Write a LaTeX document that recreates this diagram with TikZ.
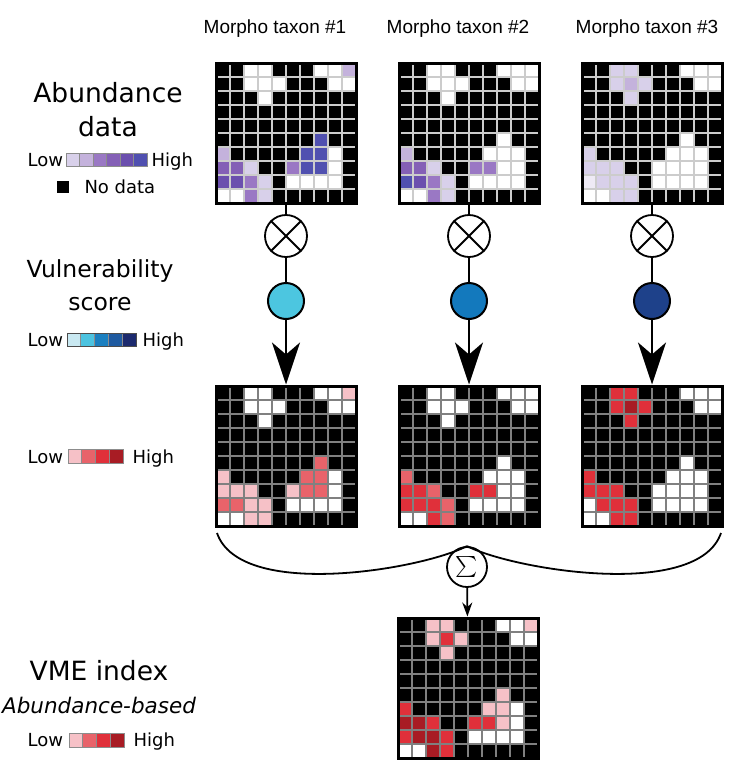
\documentclass[tikz,border=0pt]{standalone}
\usepackage{fontspec}
\setmainfont{DejaVu Sans}
\newfontfamily\arialf{Liberation Sans}
\usetikzlibrary{arrows.meta}
\definecolor{B}{HTML}{000000}
\definecolor{W}{HTML}{FFFFFF}
\definecolor{p0}{HTML}{EEEAF5}
\definecolor{p1}{HTML}{D8D0EA}
\definecolor{p2}{HTML}{C4B2DC}
\definecolor{p3}{HTML}{9A78C4}
\definecolor{p4}{HTML}{8460B6}
\definecolor{p5}{HTML}{6B4FAE}
\definecolor{p6}{HTML}{5050B0}
\definecolor{b1}{HTML}{C9E9F2}
\definecolor{b2}{HTML}{4CC3E0}
\definecolor{b3}{HTML}{1A7FC0}
\definecolor{b4}{HTML}{1F5AA0}
\definecolor{b5}{HTML}{1C2A6E}
\definecolor{c1}{HTML}{4CC6E0}
\definecolor{c2}{HTML}{1379BD}
\definecolor{c3}{HTML}{1E418A}
\definecolor{r1}{HTML}{F6C1C7}
\definecolor{r2}{HTML}{E8636A}
\definecolor{r3}{HTML}{E0303A}
\definecolor{r4}{HTML}{A81C24}
\newcommand{\drawcells}[4]{%
  \foreach \rowdata [count=\r from 0] in {#4} {
    \foreach \cc [count=\k from 0] in \rowdata {
      \fill[fill=\cc] ({#1+\k*14},{#2+\r*14}) rectangle ++(14,14);
    }
  }
  \foreach \i in {1,...,9} {
    \draw[#3] ({#1+\i*14},#2) -- ++(0,140);
    \draw[#3] (#1,{#2+\i*14}) -- ++(140,0);
  }
}
\newcommand{\swatches}[5]{% x0, y0, width, height, list
  \foreach \cc [count=\k from 0] in {#5} {
    \filldraw[fill=\cc, draw=black!45, line width=0.8] ({#1+\k*#3},#2) rectangle ++(#3,#4);
  }
}
\tikzset{
  gridframe/.style={draw=black, line width=3, minimum size=140, inner sep=0, fill=none},
  lightlines/.style={draw=black!20, line width=1.2},
  darklines/.style={draw=black!50, line width=1.2},
  timesc/.style={circle, draw=black, line width=1.8, minimum size=42, inner sep=0, fill=white},
  vcirc/.style={circle, draw=black, line width=2, minimum size=36, inner sep=0},
  sumc/.style={circle, draw=black, line width=1.8, minimum size=40, inner sep=0, fill=white},
  conn/.style={draw=black, line width=2.5},
  bigtip/.style={-{Stealth[length=42, width=28, inset=12]}},
  curve/.style={draw=black, line width=1.8},
  big/.style={font=\fontsize{26.5}{30}\selectfont},
  mid/.style={font=\fontsize{23.5}{28}\selectfont},
  small/.style={font=\fontsize{18}{22}\selectfont},
  coltitle/.style={font=\arialf\fontsize{19}{22}\selectfont, anchor=base},
}
\begin{document}
\begin{tikzpicture}[x=1pt, y=-1pt]
\useasboundingbox (0,0) rectangle (747,772);
% column titles
\node[coltitle] (h1) at (275,33) {Morpho taxon \#1};
\node[coltitle] (h2) at (458,33) {Morpho taxon \#2};
\node[coltitle] (h3) at (647,33) {Morpho taxon \#3};
% abundance grids
\drawcells{216}{63}{lightlines}{{B,B,W,W,B,B,B,W,W,p2},{B,B,W,W,W,B,B,B,W,W},{B,B,B,W,B,B,B,B,B,B},{B,B,B,B,B,B,B,B,B,B},{B,B,B,B,B,B,B,B,B,B},{B,B,B,B,B,B,B,p6,B,B},{p2,B,B,B,B,B,p6,p6,W,B},{p4,p4,p1,B,B,p3,p6,p6,W,B},{p5,p5,p3,p1,B,W,W,W,W,B},{W,W,p3,p1,B,B,B,B,B,B}}
\drawcells{399}{63}{lightlines}{{B,B,W,W,B,B,B,W,W,W},{B,B,W,W,W,B,B,B,W,W},{B,B,B,W,B,B,B,B,B,B},{B,B,B,B,B,B,B,B,B,B},{B,B,B,B,B,B,B,B,B,B},{B,B,B,B,B,B,B,W,B,B},{p2,B,B,B,B,B,W,W,W,B},{p4,p4,p1,B,B,p3,p3,W,W,B},{p6,p5,p3,p1,B,W,W,W,W,B},{W,W,p3,p1,B,B,B,B,B,B}}
\drawcells{582}{63}{lightlines}{{B,B,p1,p1,B,B,B,W,W,W},{B,B,p1,p2,p1,B,B,B,W,W},{B,B,B,p1,B,B,B,B,B,B},{B,B,B,B,B,B,B,B,B,B},{B,B,B,B,B,B,B,B,B,B},{B,B,B,B,B,B,B,W,B,B},{p1,B,B,B,B,B,W,W,W,B},{p1,p1,p1,B,B,W,W,W,W,B},{p0,p1,p1,p1,B,W,W,W,W,B},{W,W,p1,p1,B,B,B,B,B,B}}
\node[gridframe] (g1) at (286,133) {};
\node[gridframe] (g2) at (469,133) {};
\node[gridframe] (g3) at (652,133) {};
% index grids
\drawcells{216}{386}{darklines}{{B,B,W,W,B,B,B,W,W,r1},{B,B,W,W,W,B,B,B,W,W},{B,B,B,W,B,B,B,B,B,B},{B,B,B,B,B,B,B,B,B,B},{B,B,B,B,B,B,B,B,B,B},{B,B,B,B,B,B,B,r2,B,B},{r1,B,B,B,B,B,r2,r2,W,B},{r1,r1,r1,B,B,r1,r2,r2,W,B},{r2,r2,r1,r1,B,W,W,W,W,B},{W,W,r1,r1,B,B,B,B,B,B}}
\drawcells{399}{386}{darklines}{{B,B,W,W,B,B,B,W,W,W},{B,B,W,W,W,B,B,B,W,W},{B,B,B,W,B,B,B,B,B,B},{B,B,B,B,B,B,B,B,B,B},{B,B,B,B,B,B,B,B,B,B},{B,B,B,B,B,B,B,W,B,B},{r2,B,B,B,B,B,W,W,W,B},{r3,r3,r2,B,B,r3,r3,W,W,B},{r3,r3,r3,r2,B,W,W,W,W,B},{W,W,r3,r2,B,B,B,B,B,B}}
\drawcells{582}{386}{darklines}{{B,B,r3,r3,B,B,B,W,W,W},{B,B,r3,r4,r3,B,B,B,W,W},{B,B,B,r3,B,B,B,B,B,B},{B,B,B,B,B,B,B,B,B,B},{B,B,B,B,B,B,B,B,B,B},{B,B,B,B,B,B,B,W,B,B},{r3,B,B,B,B,B,W,W,W,B},{r3,r3,r3,B,B,W,W,W,W,B},{W,r3,r3,r3,B,W,W,W,W,B},{W,W,r3,r3,B,B,B,B,B,B}}
\node[gridframe] (r1g) at (286,456) {};
\node[gridframe] (r2g) at (469,456) {};
\node[gridframe] (r3g) at (652,456) {};
% VME grid
\drawcells{398}{618}{darklines}{{B,B,r1,r1,B,B,B,W,W,r1},{B,B,r1,r3,r1,B,B,B,W,W},{B,B,B,r1,B,B,B,B,B,B},{B,B,B,B,B,B,B,B,B,B},{B,B,B,B,B,B,B,B,B,B},{B,B,B,B,B,B,B,r1,B,B},{r3,B,B,B,B,B,r1,r1,W,B},{r4,r4,r3,B,B,r3,r3,r1,W,B},{r3,r4,r4,r3,B,W,W,W,W,B},{W,W,r4,r3,B,B,B,B,B,B}}
\node[gridframe] (vg) at (468,688) {};
% operator circles
\foreach \n/\xx/\cl in {1/286/c1, 2/469/c2, 3/652/c3} {
  \node[timesc] (x\n) at (\xx,236) {};
  \draw[line width=1.8] (x\n.north east) -- (x\n.south west) (x\n.north west) -- (x\n.south east);
  \node[vcirc, fill=\cl] (v\n) at (\xx,301) {};
}
\draw[conn] (g1) -- (x1);
\draw[conn] (g2) -- (x2);
\draw[conn] (g3) -- (x3);
\draw[conn] (x1) -- (v1);
\draw[conn] (x2) -- (v2);
\draw[conn] (x3) -- (v3);
\draw[conn, bigtip] (v1) -- (r1g);
\draw[conn, bigtip] (v2) -- (r2g);
\draw[conn, bigtip] (v3) -- (r3g);
% sum
\node[sumc] (s) at (467,567) {\scalebox{2.1}{$\sum$}};
\coordinate (cl) at (217,533);
\coordinate (cr) at (721,533);
\draw[curve] (cl) .. controls (240,600) and (420,570) .. (s.north);
\draw[curve] (cr) .. controls (698,600) and (514,570) .. (s.north);
\draw[conn, line width=1.8, -{Stealth[length=14, width=10]}] (s) -- (vg);
% left labels
\node[big, anchor=base] (tab) at (108,102) {Abundance};
\node[big, anchor=base] (tda) at (108,136) {data};
\node[small, anchor=base west] (low1) at (24,166) {Low};
\swatches{66}{153}{13.5}{13}{p1,p2,p3,p4,p5,p6}
\node[small, anchor=base west] (high1) at (148,166) {High};
\fill[black] (57,181) rectangle (69,193);
\node[small, anchor=base west] (nod) at (81,193) {No data};
\node[mid, anchor=base] (tvu) at (100,277) {Vulnerability};
\node[mid, anchor=base] (tsc) at (100,310) {score};
\node[small, anchor=base west] (low2) at (24,346) {Low};
\swatches{67}{333}{13.8}{13}{b1,b2,b3,b4,b5}
\draw[black!70, line width=0.8] (67,333) rectangle (136,346);
\node[small, anchor=base west] (high2) at (139,346) {High};
\node[small, anchor=base west] (low3) at (24,463) {Low};
\swatches{68}{449}{13.75}{14}{r1,r2,r3,r4}
\node[small, anchor=base west] (high3) at (129,463) {High};
\node[big, anchor=base] (tvme) at (99,680) {VME index};
\node[anchor=base, font=\fontsize{21.5}{26}\selectfont\itshape] (tab2) at (99,713) {Abundance-based};
\node[small, anchor=base west] (low4) at (24,746) {Low};
\swatches{69}{733}{13.75}{14}{r1,r2,r3,r4}
\node[small, anchor=base west] (high4) at (130,746) {High};
\end{tikzpicture}
\end{document}
